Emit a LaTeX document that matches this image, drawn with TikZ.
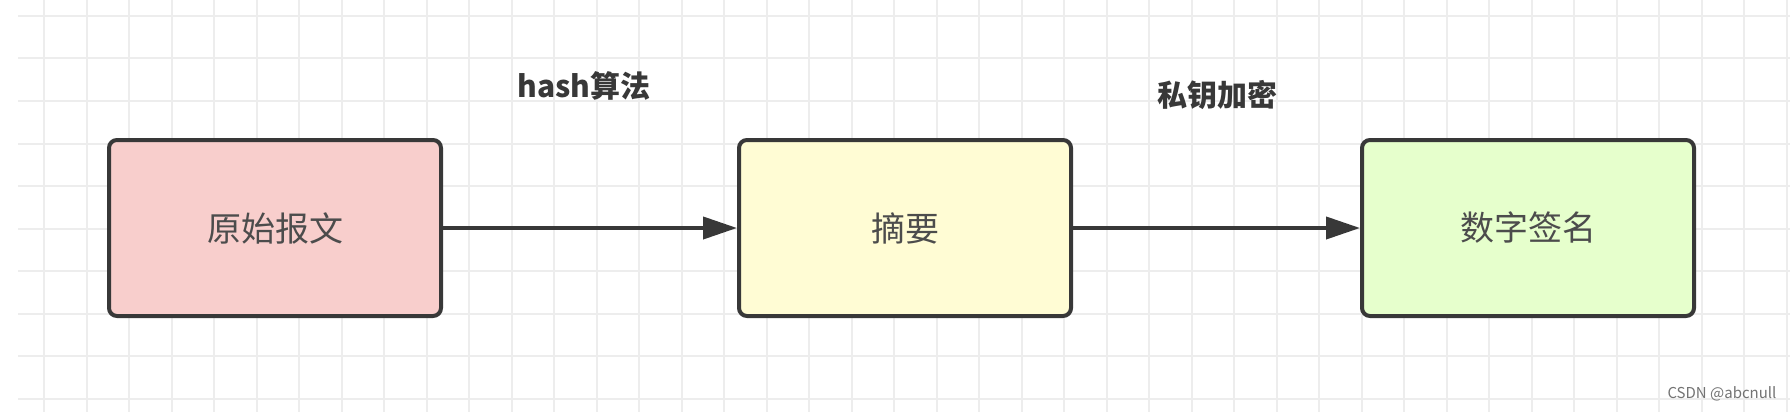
\documentclass[tikz,border=0pt]{standalone}
\usepackage{fontspec}
\setmainfont{Noto Sans CJK SC}
\usetikzlibrary{arrows.meta}
\begin{document}
\begin{tikzpicture}[x=1pt,y=-1pt,
  box/.style={draw=black!78,line width=4pt,rounded corners=8pt,minimum width=332pt,minimum height=176pt,font=\fontsize{34}{40}\selectfont,text=black!70},
  lbl/.style={font=\bfseries\fontsize{30}{36}\selectfont,text=black!78},
  conn/.style={draw=black!78,line width=4pt,-{Triangle[length=34pt,width=22pt]}}]
\useasboundingbox (0,0) rectangle (1790,412);
\fill[white] (0,0) rectangle (1790,412);
\foreach \i in {0,...,41} \draw[black!7,line width=2pt] ({44+42.5*\i},0) -- ({44+42.5*\i},412);
\foreach \j in {0,...,9} \draw[black!7,line width=2pt] (18,{16+42.5*\j}) -- (1790,{16+42.5*\j});
\node[box,fill={rgb,255:red,248;green,206;blue,204}] (a) at (275,228) {原始报文};
\node[box,fill={rgb,255:red,255;green,252;blue,212}] (b) at (905,228) {摘要};
\node[box,fill={rgb,255:red,230;green,255;blue,204}] (c) at (1528,228) {数字签名};
\draw[conn] (a) -- (b);
\draw[conn] (b) -- (c);
\node[lbl] (l1) at (584,86) {hash算法};
\node[lbl] (l2) at (1217,95) {私钥加密};
\node[font=\fontsize{15}{18}\selectfont,text=black!55,anchor=east] (w) at (1780,394) {CSDN @abcnull};
\end{tikzpicture}
\end{document}
